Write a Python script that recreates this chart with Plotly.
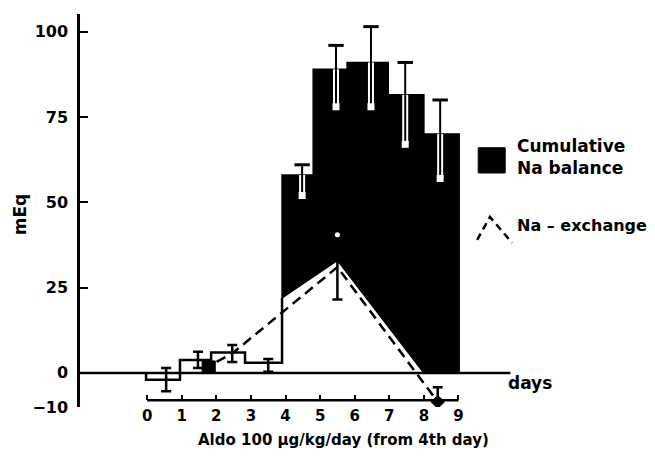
import plotly.graph_objects as go

# ---- data ----
bar_edges = [-0.03, 0.95, 1.85, 2.83, 3.90, 4.80, 5.78, 6.97, 8.0, 9.02]   # days
balance = [-2.0, 3.8, 6.0, 3.0, 58.0, 89.0, 91.0, 81.5, 70.0]              # cumulative Na balance, mEq
open_count = 4                                                             # first 4 bars drawn open

fill_floor_x = [3.90, 5.5, 8.0]     # lower edge of the black (retained) area
fill_floor_y = [22.0, 33.0, 0.0]
early_fill_x = [1.59, 1.97]
early_fill_y = [0.0, 3.5]

open_err_x = [0.55, 1.47, 2.46, 3.5]
open_err_y = [-2.0, 3.8, 5.7, 2.2]
open_err_e = [3.4, 2.4, 2.5, 1.9]

dark_err_x = [4.48, 5.46, 6.47, 7.46, 8.47]
dark_err_mean = [52.0, 78.0, 78.0, 67.0, 57.0]
dark_err_top = [61.0, 96.0, 101.5, 91.0, 80.0]

exch_x = [1.6, 2.46, 5.5, 8.4]
exch_y = [1.0, 5.7, 31.0, -8.5]
exch_err = [0.0, 0.0, 9.5, 4.3]

y_ticks = [-10, 0, 25, 50, 75, 100]
day_ticks = [0, 1, 2, 3, 4, 5, 6, 7, 8, 9]
day_labels = ["0", "1", "2", "3", "4", "5", "6", "7", "8", "9"]

FONT = "DejaVu Sans"
XR = [-1.94, 14.68]
YR = [-10, 105.2]

fig = go.Figure()

# open step outline (days 0-4)
sx, sy = [bar_edges[0]], [0]
for i in range(open_count):
    sx += [bar_edges[i], bar_edges[i + 1]]
    sy += [balance[i], balance[i]]
sx += [bar_edges[open_count]]
sy += [fill_floor_y[0]]
fig.add_trace(go.Scatter(x=sx, y=sy, mode="lines", line=dict(color="black", width=2.5),
                         hoverinfo="skip", showlegend=False))

# small early black area
fig.add_trace(go.Scatter(x=[early_fill_x[0], early_fill_x[0], early_fill_x[1], early_fill_x[1], early_fill_x[0]],
                         y=[early_fill_y[0], early_fill_y[1], early_fill_y[1], early_fill_y[0], early_fill_y[0]],
                         mode="lines", fill="toself", fillcolor="black", line=dict(color="black", width=1),
                         hoverinfo="skip", showlegend=False))

# black cumulative balance area
px, py = [fill_floor_x[0]], [fill_floor_y[0]]
for i in range(open_count, len(balance)):
    px += [bar_edges[i], bar_edges[i + 1]]
    py += [balance[i], balance[i]]
px += [bar_edges[-1], fill_floor_x[-1]]
py += [0, fill_floor_y[-1]]
px += fill_floor_x[::-1][1:]
py += fill_floor_y[::-1][1:]
fig.add_trace(go.Scatter(x=px, y=py, mode="lines", fill="toself", fillcolor="black",
                         line=dict(color="black", width=1.5), hoverinfo="skip", showlegend=False))

# open-bar error bars
fig.add_trace(go.Scatter(x=open_err_x, y=open_err_y, mode="markers",
                         marker=dict(size=1, color="black"),
                         error_y=dict(type="data", array=open_err_e, color="black", thickness=2.5, width=5),
                         hoverinfo="skip", showlegend=False))

# dark-bar error bars: white-edged stem inside the bar, black above it
dark_tops = balance[open_count:]
for xv, m, top, bt in zip(dark_err_x, dark_err_mean, dark_err_top, dark_tops):
    fig.add_trace(go.Scatter(x=[xv, xv], y=[m, bt], mode="lines", line=dict(color="white", width=6),
                             hoverinfo="skip", showlegend=False))
    fig.add_trace(go.Scatter(x=[xv, xv], y=[m, top], mode="lines", line=dict(color="black", width=2),
                             hoverinfo="skip", showlegend=False))
fig.add_trace(go.Scatter(x=dark_err_x, y=dark_err_top, mode="markers",
                         marker=dict(symbol="line-ew", size=11, line=dict(color="black", width=3)),
                         hoverinfo="skip", showlegend=False))
fig.add_trace(go.Scatter(x=dark_err_x, y=dark_err_mean, mode="markers",
                         marker=dict(symbol="square", size=7, color="white"),
                         hoverinfo="skip", showlegend=False))

# Na-exchange dashed line
fig.add_trace(go.Scatter(x=exch_x, y=exch_y, mode="lines",
                         line=dict(color="black", width=2.5, dash="10px,6px"),
                         hoverinfo="skip", showlegend=False))
fig.add_trace(go.Scatter(x=exch_x[2:], y=exch_y[2:], mode="markers",
                         marker=dict(size=1, color="black"),
                         error_y=dict(type="data", array=exch_err[2:], color="black", thickness=2.5, width=5),
                         hoverinfo="skip", showlegend=False))
fig.add_trace(go.Scatter(x=[exch_x[2]], y=[exch_y[2] + exch_err[2]], mode="markers",
                         marker=dict(size=5, color="white"), hoverinfo="skip", showlegend=False))
fig.add_trace(go.Scatter(x=[exch_x[-1]], y=[exch_y[-1]], mode="markers",
                         marker=dict(symbol="diamond", size=11, color="black"),
                         hoverinfo="skip", showlegend=False))

shapes = [
    dict(type="line", xref="x", yref="y", x0=XR[0], x1=10.5, y0=0, y1=0,
         line=dict(color="black", width=2.5)),
    dict(type="line", xref="x", yref="y", x0=0, x1=9, y0=-8, y1=-8,
         line=dict(color="black", width=2.5)),
    dict(type="rect", xref="x", yref="y", x0=9.57, x1=10.35, y0=58.6, y1=66,
         fillcolor="black", line=dict(color="black", width=1)),
    dict(type="path", xref="x", yref="y", path="M 9.54 39 L 9.91 45.7 L 10.55 38.1",
         line=dict(color="black", width=2.5, dash="7px,5px")),
]

annotations = [
    dict(x=10.64, y=63.3, xref="x", yref="y", text="Cumulative<br>Na balance", showarrow=False,
         xanchor="left", yanchor="middle", align="left",
         font=dict(family=FONT, size=17, color="black", weight="bold")),
    dict(x=10.64, y=43.1, xref="x", yref="y", text="Na – exchange", showarrow=False,
         xanchor="left", yanchor="middle",
         font=dict(family=FONT, size=16, color="black", weight="bold")),
    dict(x=11.07, y=-3, xref="x", yref="y", text="days", showarrow=False,
         xanchor="center", yanchor="middle",
         font=dict(family=FONT, size=17, color="black", weight="bold")),
    dict(x=5.69, y=-0.084, xref="x", yref="paper", text="Aldo 100 μg/kg/day (from 4th day)",
         showarrow=False, xanchor="center", yanchor="middle",
         font=dict(family=FONT, size=15, color="black", weight="bold")),
    dict(x=-0.103, y=0.49, xref="paper", yref="paper", text="mEq", textangle=-90, showarrow=False,
         xanchor="center", yanchor="middle",
         font=dict(family=FONT, size=17, color="black", weight="bold")),
]

# the page body has an 8px default margin, so the figure is sized/offset to compensate
fig.update_layout(
    width=647, height=453,
    margin=dict(l=72, r=0, t=6, b=54),
    paper_bgcolor="white", plot_bgcolor="white",
    showlegend=False,
    shapes=shapes,
    annotations=annotations,
    xaxis=dict(range=XR, anchor="free", position=2 / 115.2, side="bottom",
               tickvals=day_ticks, ticktext=day_labels, ticks="inside", ticklen=5, tickwidth=2,
               tickcolor="black", showline=False, showgrid=False, zeroline=False,
               ticklabelstandoff=5,
               tickfont=dict(family=FONT, size=15, color="black", weight="bold")),
    yaxis=dict(range=YR, tickvals=y_ticks, ticks="inside", ticklen=8, tickwidth=2, tickcolor="black",
               showline=True, linewidth=2.5, linecolor="black", showgrid=False, zeroline=False,
               ticklabelstandoff=6,
               tickfont=dict(family=FONT, size=16, color="black", weight="bold")),
)

fig.write_html("out.html")
